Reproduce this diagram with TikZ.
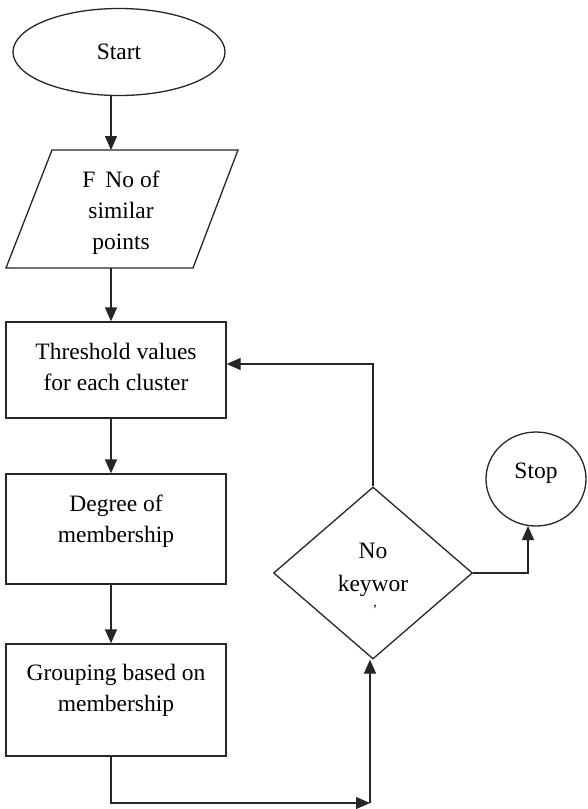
\documentclass[tikz,border=0pt]{standalone}
\usepackage{fontspec}
\setmainfont{Liberation Serif}
\usetikzlibrary{shapes.geometric,arrows.meta}
\begin{document}
\begin{tikzpicture}[x=1pt,y=-1pt,
  line width=1.3pt,
  every path/.style={draw=black!85},
  box/.style={draw, rectangle, minimum width=220pt, inner sep=0pt},
  lbl/.style={font=\fontsize{23.5}{31}\selectfont, align=center, inner sep=0pt, draw=none},
  arr/.style={-{Triangle[length=14pt,width=12pt]}},
]
\useasboundingbox[draw=none] (0,0) rectangle (587,809);

% Start
\node[ellipse, draw, minimum width=212pt, minimum height=87pt, inner sep=0pt, font=\fontsize{23.5}{31}\selectfont] (start) at (119,52) {Start};

% parallelogram
\coordinate (pTL) at (52,150);
\coordinate (pTR) at (238,150);
\coordinate (pBR) at (193,268);
\coordinate (pBL) at (6,268);
\draw (pTL) -- (pTR) -- (pBR) -- (pBL) -- cycle;
\coordinate (pTop) at (111,150);
\coordinate (pBot) at (111,268);
\node[lbl] (tpara) at (121,213) {F\hspace{10pt}No of\\similar\\points};

% boxes
\node[box, minimum height=96pt] (r1) at (116,370) {};
\node[lbl] (t1) at (116,367) {Threshold values\\for each cluster};
\node[box, minimum height=110pt] (r2) at (116,529) {};
\node[lbl] (t2) at (116,521) {Degree of\\membership};
\node[box, minimum height=112pt] (r3) at (116,700) {};
\node[lbl] (t3) at (116,690) {Grouping based on\\membership};

% decision
\node[diamond, draw, minimum width=199pt, minimum height=172pt, inner sep=0pt] (dec) at (373,573) {};
\node[lbl, font=\fontsize{23.5}{33}\selectfont] (tdec) at (373,570) {No\\keywor};
\node[lbl, font=\fontsize{14}{14}\selectfont] (tdot) at (375,610) {'};

% stop
\node[ellipse, draw, minimum width=100pt, minimum height=94pt, inner sep=0pt] (stop) at (536,479) {};
\node[lbl] (tstop) at (536,473) {Stop};

% connectors
\draw[arr] (start.south -| pTop) -- (pTop);
\draw[arr] (pBot) -- (pBot |- r1.north);
\draw[arr] (r1.south -| pBot) -- (r2.north -| pBot);
\draw[arr] (r2.south -| pBot) -- (r3.north -| pBot);
\coordinate (c1) at (370,803);
\draw[arr] (r3.south -| pBot) |- (c1);
\draw[arr] (c1) -- (c1 |- dec.south);
\coordinate (c2) at (375,364);
\draw[arr] (dec.north) |- (r1.east |- c2);
\coordinate (c3) at (528,526);
\draw[arr] (dec.east) -| (c3);
\end{tikzpicture}
\end{document}
